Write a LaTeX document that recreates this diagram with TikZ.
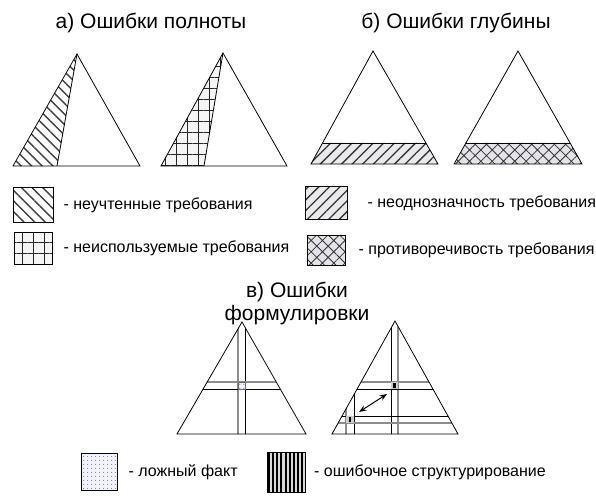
\documentclass[tikz,border=0pt]{standalone}
\usepackage{fontspec}
\setmainfont{Liberation Sans}
\usetikzlibrary{positioning, arrows.meta, calc, patterns, patterns.meta}

\begin{document}
\begin{tikzpicture}[x=1pt, y=-1pt, >=Stealth,
	tri/.style={draw, line width=0.8pt},
	title/.style={font=\fontsize{21}{24}\selectfont, anchor=base, inner sep=0pt},
	legtext/.style={font=\fontsize{16}{18}\selectfont, anchor=west, inner sep=0pt},
	legbox/.style={draw, line width=0.8pt, inner sep=0pt},
	greyline/.style={draw=black!45, line width=1.5pt},
	blackline/.style={draw=black, line width=0.9pt},
	hatchnw/.style={pattern={Lines[angle=-45,distance=7.5pt,line width=1.4pt]}, pattern color=black!75},
	hatchne/.style={preaction={fill=blue!8!gray!15}, pattern={Lines[angle=45,distance=7.5pt,line width=1.3pt]}, pattern color=black!80},
	gridfill/.style={preaction={fill=gray!8}, pattern={Hatch[angle=0,distance=11pt,line width=0.8pt]}, pattern color=black!85},
	crossfill/.style={preaction={fill=blue!8!gray!20}, pattern={Hatch[angle=45,distance=8pt,line width=0.8pt]}, pattern color=black!80},
	dotfill/.style={preaction={fill=blue!5}, pattern={Dots[distance=4pt,radius=0.6pt]}, pattern color=black!75},
	vertfill/.style={preaction={fill=gray!30}, pattern={Lines[angle=90,distance=4.2pt,line width=1.9pt]}, pattern color=black}
	]
	\useasboundingbox (0,0) rectangle (596,495);
	
	% Заголовки
	\node[title] (titleA) at (151,29) {а) Ошибки полноты};
	\node[title] (titleB) at (456,29) {б) Ошибки глубины};
	\node[title] (titleC1) at (297,297) {в) Ошибки};
	\node[title] (titleC2) at (297,320) {формулировки};
	
	% а) Ошибки полноты
	\coordinate (a1) at (77,54);  \coordinate (l1) at (13,166);  \coordinate (r1) at (140,166); \coordinate (s1) at (57,166);
	\coordinate (a2) at (223,53); \coordinate (l2) at (161,166); \coordinate (r2) at (287,166); \coordinate (s2) at (204,166);
	\fill[hatchnw] (a1) -- (l1) -- (s1) -- cycle;
	\fill[gridfill] (a2) -- (l2) -- (s2) -- cycle;
	\draw[tri] (a1) -- (l1) -- (r1) -- cycle;
	\draw[tri] (a1) -- (s1);
	\draw[tri] (a2) -- (l2) -- (r2) -- cycle;
	\draw[tri] (a2) -- (s2);
	
	% б) Ошибки глубины
	\coordinate (a3) at (373,51); \coordinate (l3) at (311,164); \coordinate (r3) at (438,164);
	\coordinate (a4) at (518,51); \coordinate (l4) at (454,164); \coordinate (r4) at (582,164);
	\fill[hatchne] ($(a3)!0.814!(l3)$) -- (l3) -- (r3) -- ($(a3)!0.814!(r3)$) -- cycle;
	\fill[crossfill] ($(a4)!0.814!(l4)$) -- (l4) -- (r4) -- ($(a4)!0.814!(r4)$) -- cycle;
	\draw[tri] ($(a3)!0.814!(l3)$) -- ($(a3)!0.814!(r3)$);
	\draw[tri] ($(a4)!0.814!(l4)$) -- ($(a4)!0.814!(r4)$);
	\draw[tri] (a3) -- (l3) -- (r3) -- cycle;
	\draw[tri] (a4) -- (l4) -- (r4) -- cycle;
	
	% Легенда а) и б)
	\node[legbox, hatchnw, minimum width=40pt, minimum height=35pt] (boxNW) at (33,205) {};
	\node[legtext, right=10pt of boxNW] (txtNW) {- неучтенные требования};
	\node[legbox, gridfill, minimum width=38pt, minimum height=32pt] (boxGrid) at (33,248) {};
	\node[legtext, right=11pt of boxGrid] (txtGrid) {- неиспользуемые требования};
	\node[legbox, hatchne, minimum width=42pt, minimum height=33pt] (boxNE) at (326,203) {};
	\node[legtext, right=20pt of boxNE] (txtNE) {- неоднозначность требования};
	\node[legbox, crossfill, minimum width=38pt, minimum height=30pt] (boxCross) at (326,250) {};
	\node[legtext, right=13pt of boxCross] (txtCross) {- противоречивость требования};
	
	% в) Ошибки формулировки
	\coordinate (a5) at (242,322); \coordinate (l5) at (177,434); \coordinate (r5) at (306,434);
	\coordinate (a6) at (395,321); \coordinate (l6) at (332,434); \coordinate (r6) at (458,434);
	\begin{scope}
		\clip (a5) -- (l5) -- (r5) -- cycle;
		\draw[greyline] (238,300) -- (238,440);
		\draw[blackline] (245,300) -- (245,440);
		\draw[greyline] (170,382) -- (320,382);
		\draw[blackline] (170,389) -- (320,389);
	\end{scope}
	\fill[dotfill] (238,382) rectangle (245,389);
	\draw[black!60, line width=0.6pt] (238,382) rectangle (245,389);
	\begin{scope}
		\clip (a6) -- (l6) -- (r6) -- cycle;
		\draw[blackline] (391,300) -- (391,440);
		\draw[greyline] (398,300) -- (398,440);
		\draw[greyline] (346,300) -- (346,440);
		\draw[blackline] (354,300) -- (354,440);
		\draw[greyline] (320,382) -- (470,382);
		\draw[blackline] (320,389) -- (470,389);
		\draw[blackline] (320,416) -- (470,416);
		\draw[greyline] (320,423) -- (470,423);
	\end{scope}
	\fill[gray!40] (391,382) rectangle (398,389);
	\fill[gray!40] (346,416) rectangle (354,423);
	\draw[black, line width=2.2pt] (394.5,383) -- (394.5,388);
	\draw[black, line width=2.2pt] (350,417) -- (350,422);
	\draw[tri] (a5) -- (l5) -- (r5) -- cycle;
	\draw[tri] (a6) -- (l6) -- (r6) -- cycle;
	\coordinate (arrS) at (359,412);
	\coordinate (arrE) at (387,394);
	\draw[<->, line width=1pt] (arrS) -- (arrE);
	
	% Легенда в)
	\node[legbox, dotfill, minimum width=36pt, minimum height=37pt] (boxDots) at (99,472) {};
	\node[legtext, right=11pt of boxDots] (txtDots) {- ложный факт};
	\node[legbox, vertfill, minimum width=38pt, minimum height=40pt] (boxVert) at (286,472) {};
	\node[legtext, right=8pt of boxVert] (txtVert) {- ошибочное структурирование};
\end{tikzpicture}
\end{document}
